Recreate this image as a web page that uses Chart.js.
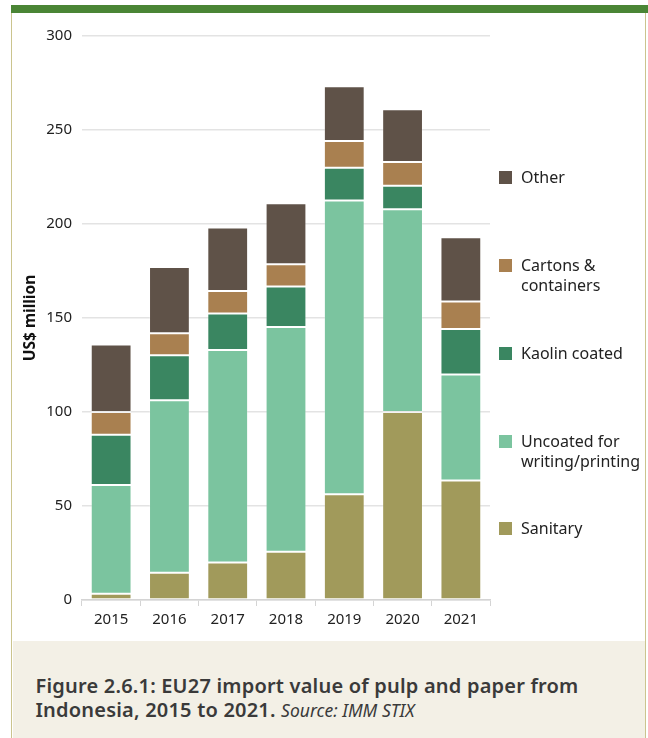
<!DOCTYPE html>
<html>
<head>
<meta charset="utf-8">
<script src="https://cdn.jsdelivr.net/npm/chart.js@4/dist/chart.umd.min.js"></script>
<style>
    body { margin: 0; background: #fff; font-family: "Noto Sans", sans-serif; }
    #page { position: relative; width: 648px; height: 738px; overflow: hidden; }
    #topbar { position: absolute; left: 11px; top: 5px; width: 637px; height: 8px; background: #4a8535; }
    #frame { position: absolute; left: 11px; top: 13px; width: 633px; height: 725px;
             border-left: 1.5px solid #cbc48e; border-right: 1.5px solid #cbc48e; }
    #chartBox { position: absolute; left: 0; top: 0; width: 500px; height: 640px; }
    #legend { position: absolute; left: 499px; top: 0; width: 148px; height: 640px; }
    .item { position: absolute; left: 0; font-size: 16px; line-height: 19.5px; color: #222; }
    .item .sw { position: absolute; left: 0; top: 3px; width: 13px; height: 13px; }
    .item .tx { position: absolute; left: 22px; top: 0; white-space: nowrap; }
    #caption { position: absolute; left: 12.5px; top: 641px; width: 632px; height: 97px; background: #f3f0e6; }
    #captionText { position: absolute; left: 23px; top: 33px; font-size: 20px; line-height: 24px;
                   letter-spacing: 0.2px; font-weight: 600; color: #3a3a3a; }
    #captionText span { font-weight: 400; font-style: italic; font-size: 17.5px; letter-spacing: 0; }
</style>
</head>
<body>
<div id="page">
    <div id="frame"></div>
    <div id="topbar"></div>
    <div id="chartBox"><canvas id="chart"></canvas></div>
    <div id="legend"></div>
    <div id="caption">
        <div id="captionText">Figure 2.6.1: EU27 import value of pulp and paper from<br>Indonesia, 2015 to 2021. <span>Source: IMM STIX</span></div>
    </div>
</div>
<script>
const years = ['2015', '2016', '2017', '2018', '2019', '2020', '2021'];

// US$ million, stacked from the bottom up
const sanitary = [3.3, 14.5, 20.0, 25.6, 56.2, 100.0, 63.6];
const uncoated = [57.9, 91.7, 113.0, 119.6, 156.3, 107.9, 56.4];
const kaolin = [26.7, 24.0, 19.4, 21.5, 17.4, 12.4, 24.1];
const cartons = [12.1, 11.7, 11.9, 11.9, 14.2, 12.7, 14.7];
const other = [35.9, 35.2, 33.9, 32.4, 29.2, 28.0, 34.2];

const seriesNames = ['Sanitary', 'Uncoated for\nwriting/printing', 'Kaolin coated', 'Cartons &\ncontainers', 'Other'];
const seriesColors = ['#a19a5b', '#7bc49f', '#3a8661', '#a98050', '#5f5248'];
const seriesData = [sanitary, uncoated, kaolin, cartons, other];

const yTicks = [0, 50, 100, 150, 200, 250, 300];

const datasets = seriesData.map((data, i) => ({
    label: seriesNames[i].replace('\n', ' '),
    data: data,
    backgroundColor: seriesColors[i],
    borderColor: 'rgba(255,255,255,0.22)',
    borderWidth: 1,
    borderSkipped: false,
    categoryPercentage: 1,
    barPercentage: 0.7
}));

// legend on the right, drawn top to bottom from Other down to Sanitary
const legendTops = [519, 432, 344, 256, 168];
const legend = document.getElementById('legend');
seriesNames.forEach((name, i) => {
    const item = document.createElement('div');
    item.className = 'item';
    item.style.top = legendTops[i] + 'px';
    item.innerHTML = '<div class="sw" style="background:' + seriesColors[i] + '"></div>' +
        '<div class="tx">' + name.replace('\n', '<br>').replace('&', '&amp;') + '</div>';
    legend.appendChild(item);
});

const ctx = document.getElementById('chart').getContext('2d');
new Chart(ctx, {
    type: 'bar',
    data: {
        labels: years,
        datasets: datasets
    },
    options: {
        responsive: true,
        maintainAspectRatio: false,
        animation: false,
        layout: { padding: { left: 0, right: 10, top: 36, bottom: 0 } },
        plugins: {
            legend: { display: false },
            tooltip: { enabled: false }
        },
        scales: {
            x: {
                stacked: true,
                grid: {
                    offset: true,
                    drawOnChartArea: false,
                    color: '#d4d4d4',
                    tickLength: 6
                },
                border: { display: true, color: '#d4d4d4', width: 1.5 },
                ticks: {
                    color: '#222',
                    padding: 5,
                    font: { family: 'Noto Sans', size: 15 }
                },
                afterFit: scale => { scale.height = 40; }
            },
            y: {
                stacked: true,
                min: 0,
                max: 300,
                afterBuildTicks: scale => { scale.ticks = yTicks.map(v => ({ value: v })); },
                grid: {
                    color: '#e3e3e3',
                    lineWidth: 1.5,
                    drawTicks: false
                },
                border: { display: false },
                ticks: {
                    color: '#222',
                    padding: 10,
                    font: { family: 'Noto Sans', size: 15 }
                },
                title: {
                    display: true,
                    text: 'US$ million',
                    color: '#111',
                    padding: { top: 21.5, bottom: 0 },
                    font: { family: 'Noto Sans', size: 15.5, weight: 'bold' }
                },
                afterFit: scale => { scale.width = 82; }
            }
        }
    }
});
</script>
</body>
</html>
